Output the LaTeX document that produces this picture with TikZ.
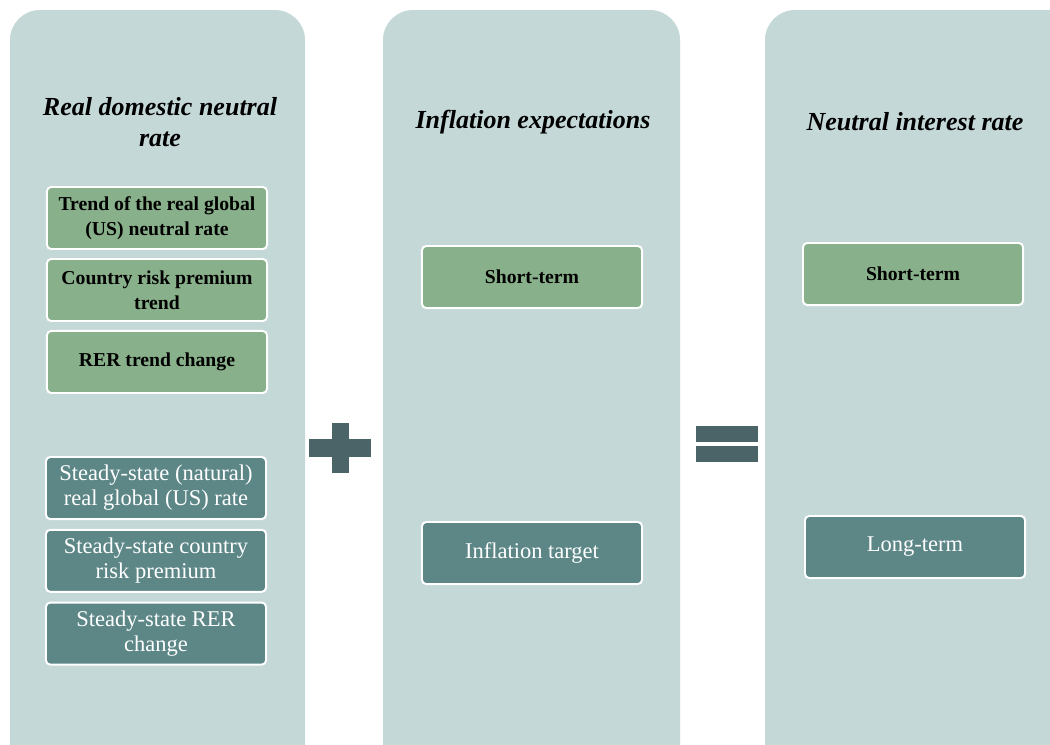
\documentclass[tikz,border=0pt]{standalone}
\usepackage{fontspec}
\setmainfont{Liberation Serif}
\usetikzlibrary{positioning}

\definecolor{panelbg}{HTML}{C5D8D8}
\definecolor{steadyfill}{HTML}{5D8787}
\definecolor{trendfill}{HTML}{88B08A}
\definecolor{signfill}{HTML}{4A6468}

\tikzset{
  panel/.style={fill=panelbg, rounded corners=0.75cm},
  paneltitle/.style={align=center, font=\bfseries\itshape\fontsize{18.5}{22.5}\selectfont},
  trendbox/.style={draw=white, line width=1.4pt, fill=trendfill, rounded corners=3pt,
    minimum width=5.5cm, minimum height=1.55cm, align=center,
    font=\bfseries\fontsize{14}{17.8}\selectfont},
  steadybox/.style={draw=white, line width=1.4pt, fill=steadyfill, text=white, rounded corners=3pt,
    minimum width=5.5cm, minimum height=1.55cm, align=center,
    font=\fontsize{16}{17.8}\selectfont},
}

\begin{document}
\begin{tikzpicture}[x=0.025cm, y=-0.025cm]
        \useasboundingbox (0,0) rectangle (1050,744);
        \clip (0,0) rectangle (1050,744);
        \fill[white] (0,0) rectangle (1050,744);

        % panels
        \path[panel] (10,10) rectangle (305,790);
        \path[panel] (383,10) rectangle (680,790);
        \path[panel] (765,10) rectangle (1100,790);

        % left panel
        \node[paneltitle] (realtitle) at (160,122) {Real domestic neutral\\rate};
        \node[trendbox] (globaltrend) at (157,218) {Trend of the real global\\(US) neutral rate};
        \node[trendbox, below=0.2cm of globaltrend] (risktrend) {Country risk premium\\trend};
        \node[trendbox, below=0.2cm of risktrend] (rertrend) {RER trend change};
        \node[steadybox] (globalss) at (156,488) {Steady-state (natural)\\real global (US) rate};
        \node[steadybox, below=0.22cm of globalss] (riskss) {Steady-state country\\risk premium};
        \node[steadybox, below=0.22cm of riskss] (rerss) {Steady-state RER\\change};

        % middle panel
        \node[paneltitle] (inftitle) at (533,122) {Inflation expectations};
        \node[trendbox] (infshort) at (532,277) {Short-term};
        \node[steadybox] (inftarget) at (532,553) {Inflation target};

        % right panel
        \node[paneltitle] (neutraltitle) at (915,122) {Neutral interest rate};
        \node[trendbox] (neutralshort) at (913,274) {Short-term};
        \node[steadybox] (neutrallong) at (915,547) {Long-term};

        % plus and equals
        \fill[signfill] (309,439) rectangle (371,457);
        \fill[signfill] (332,423) rectangle (349,473);
        \fill[signfill] (696,426) rectangle (758,442);
        \fill[signfill] (696,446) rectangle (758,462);
    \end{tikzpicture}
\end{document}
